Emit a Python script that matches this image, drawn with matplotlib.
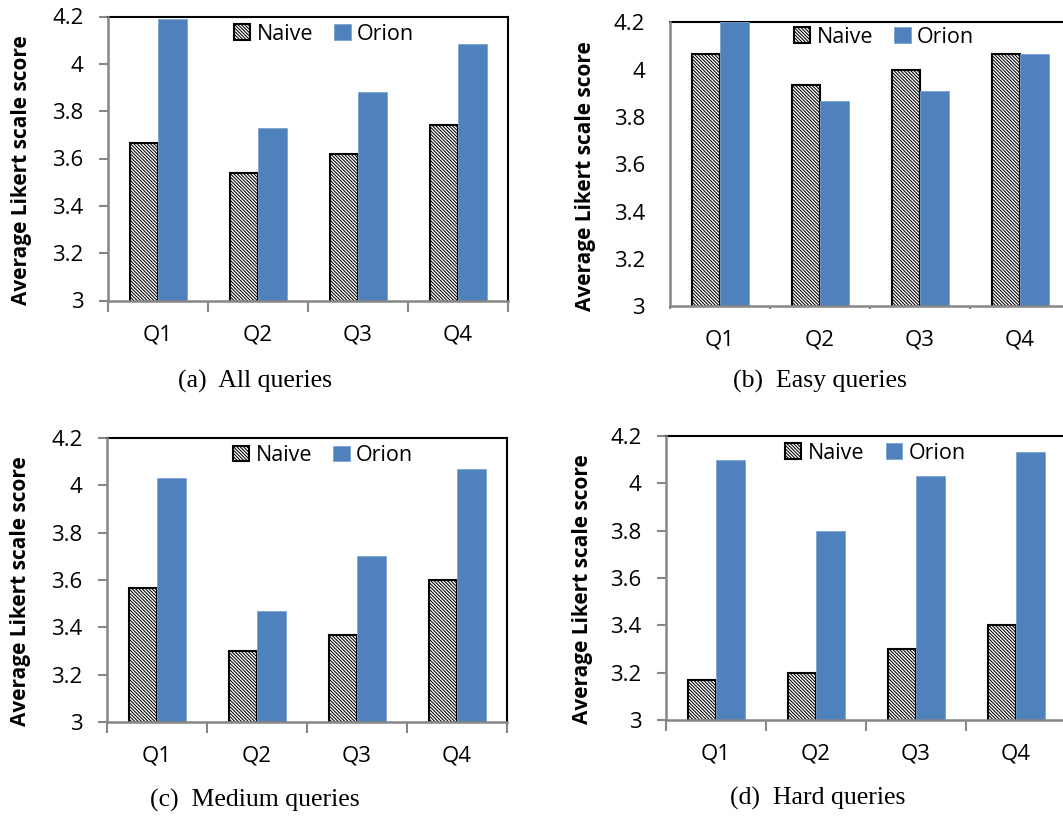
import matplotlib
matplotlib.use("Agg")
import matplotlib.pyplot as plt
import numpy as np

plt.rcParams["font.family"] = "Open Sans"
plt.rcParams["hatch.linewidth"] = 0.75

questions = ["Q1", "Q2", "Q3", "Q4"]

naive_all = [3.667, 3.54, 3.62, 3.74]
orion_all = [4.19, 3.73, 3.883, 4.083]

naive_easy = [4.067, 3.933, 4.0, 4.067]
orion_easy = [4.2, 3.867, 3.91, 4.067]

naive_medium = [3.567, 3.3, 3.367, 3.6]
orion_medium = [4.033, 3.467, 3.7, 4.067]

naive_hard = [3.167, 3.2, 3.3, 3.4]
orion_hard = [4.1, 3.8, 4.033, 4.133]

yticks = [3, 3.2, 3.4, 3.6, 3.8, 4, 4.2]
ytick_labels = ["3", "3.2", "3.4", "3.6", "3.8", "4", "4.2"]

captions = ["(a)  All queries", "(b)  Easy queries",
            "(c)  Medium queries", "(d)  Hard queries"]

BLUE = "#4f81bd"
AXIS_GRAY = "#868686"

W, H = 1063, 817
fig = plt.figure(figsize=(W / 100, H / 100), dpi=100)


def px_axes(left, top, width=400, height=284):
    return fig.add_axes([left / W, (H - top - height) / H, width / W, height / H])


# plot area corner in pixels, legend anchor, ylabel x, tick settings, caption centre
panels = [
    dict(pos=(108, 16.5), naive=naive_all, orion=orion_all, leg=(0.54, 0.938),
         ylab=-0.19, yt=True, xt=8, cap=(255, 381)),
    dict(pos=(670, 22.3), naive=naive_easy, orion=orion_easy, leg=(0.535, 0.947),
         ylab=-0.185, yt=False, xt=2, cap=(820, 381)),
    dict(pos=(107, 438), naive=naive_medium, orion=orion_medium, leg=(0.54, 0.938),
         ylab=-0.189, yt=True, xt=8, cap=(255, 800)),
    dict(pos=(666, 436), naive=naive_hard, orion=orion_hard, leg=(0.523, 0.94),
         ylab=-0.1825, yt=True, xt=8, cap=(818, 798)),
]

bw = 0.285
x = np.arange(len(questions)) + 0.5

for p, cap in zip(panels, captions):
    ax = px_axes(*p["pos"])
    ax.bar(x - bw / 2, p["naive"], bw, color="white", edgecolor="black",
           hatch="\\" * 10, linewidth=1.5, label="Naive", zorder=3)
    ax.bar(x + bw / 2, p["orion"], bw, color=BLUE, edgecolor="#7ea3d3",
           linewidth=0.6, label="Orion", zorder=3)
    ax.set_xlim(0, 4)
    ax.set_ylim(3, 4.2)

    ax.set_yticks(yticks)
    ax.set_yticklabels(ytick_labels, fontsize=16)
    ax.set_xticks(x)
    ax.set_xticklabels(questions, fontsize=16)
    ax.set_xticks(np.arange(5), minor=True)
    ax.tick_params(axis="x", which="major", length=0, pad=17)
    ax.tick_params(axis="x", which="minor", length=p["xt"], width=1.5,
                   color=AXIS_GRAY, direction="out")
    if p["yt"]:
        ax.tick_params(axis="y", length=6.5, width=1.5, color=AXIS_GRAY, pad=11)
    else:
        ax.tick_params(axis="y", length=0, pad=18)

    for side in ["left", "bottom"]:
        ax.spines[side].set_color(AXIS_GRAY)
        ax.spines[side].set_linewidth(1.8)
        ax.spines[side].set_zorder(4)
    for side in ["top", "right"]:
        ax.spines[side].set_color("black")
        ax.spines[side].set_linewidth(1.5)

    ax.set_ylabel("Average Likert scale score", fontsize=15, fontweight="bold")
    ax.yaxis.set_label_coords(p["ylab"], 0.46)

    ax.legend(loc="center", bbox_to_anchor=p["leg"], ncol=2, frameon=False,
              fontsize=15.5, handlelength=0.75, handleheight=0.75,
              handletextpad=0.3, columnspacing=1.0, borderpad=0)

    fig.text(p["cap"][0] / W, 1 - p["cap"][1] / H, cap, ha="center", va="center",
             family="Liberation Serif", fontsize=18.5)

fig.savefig("out.png", dpi=100)
